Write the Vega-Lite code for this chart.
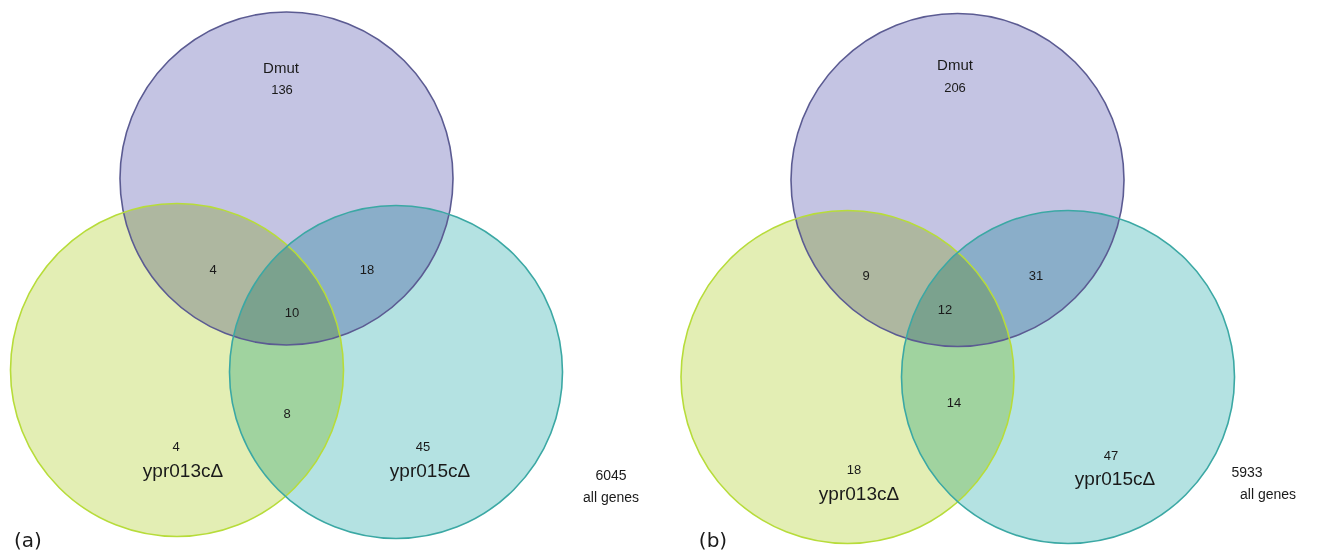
{
  "$schema": "https://vega.github.io/schema/vega-lite/v6.json",
  "width": 1325,
  "height": 556,
  "autosize": {"type": "fit", "contains": "padding"},
  "padding": 0,
  "background": "white",
  "config": {"view": {"stroke": null}},
  "datasets": {
    "circles": [
      {"panel": "a", "set": "Dmut", "cx": 286.5, "cy": 178.5},
      {"panel": "a", "set": "ypr013c", "cx": 177, "cy": 370},
      {"panel": "a", "set": "ypr015c", "cx": 396, "cy": 372},
      {"panel": "b", "set": "Dmut", "cx": 957.5, "cy": 180},
      {"panel": "b", "set": "ypr013c", "cx": 847.5, "cy": 377},
      {"panel": "b", "set": "ypr015c", "cx": 1068, "cy": 377}
    ],
    "labels": [
      {"panel": "a", "kind": "title", "text": "Dmut", "x": 281, "y": 68},
      {"panel": "a", "kind": "count", "text": "136", "x": 282, "y": 90},
      {"panel": "a", "kind": "count", "text": "4", "x": 213, "y": 270},
      {"panel": "a", "kind": "count", "text": "18", "x": 367, "y": 270},
      {"panel": "a", "kind": "count", "text": "10", "x": 292, "y": 313},
      {"panel": "a", "kind": "count", "text": "8", "x": 287, "y": 414},
      {"panel": "a", "kind": "count", "text": "4", "x": 176, "y": 447},
      {"panel": "a", "kind": "set", "text": "ypr013cΔ", "x": 183, "y": 471},
      {"panel": "a", "kind": "count", "text": "45", "x": 423, "y": 447},
      {"panel": "a", "kind": "set", "text": "ypr015cΔ", "x": 430, "y": 471},
      {"panel": "a", "kind": "total", "text": "6045", "x": 611, "y": 476},
      {"panel": "a", "kind": "total", "text": "all genes", "x": 611, "y": 498},
      {"panel": "a", "kind": "panel", "text": "(a)", "x": 28, "y": 541},
      {"panel": "b", "kind": "title", "text": "Dmut", "x": 955, "y": 65},
      {"panel": "b", "kind": "count", "text": "206", "x": 955, "y": 88},
      {"panel": "b", "kind": "count", "text": "9", "x": 866, "y": 276},
      {"panel": "b", "kind": "count", "text": "31", "x": 1036, "y": 276},
      {"panel": "b", "kind": "count", "text": "12", "x": 945, "y": 310},
      {"panel": "b", "kind": "count", "text": "14", "x": 954, "y": 403},
      {"panel": "b", "kind": "count", "text": "18", "x": 854, "y": 470},
      {"panel": "b", "kind": "set", "text": "ypr013cΔ", "x": 859, "y": 494},
      {"panel": "b", "kind": "count", "text": "47", "x": 1111, "y": 456},
      {"panel": "b", "kind": "set", "text": "ypr015cΔ", "x": 1115, "y": 479},
      {"panel": "b", "kind": "total", "text": "5933", "x": 1247, "y": 473},
      {"panel": "b", "kind": "total", "text": "all genes", "x": 1268, "y": 495},
      {"panel": "b", "kind": "panel", "text": "(b)", "x": 713, "y": 541}
    ]
  },
  "layer": [
    {
      "data": {"name": "circles"},
      "mark": {"type": "point", "shape": "circle", "filled": true, "size": 110889, "opacity": 1, "strokeWidth": 0, "blend": "multiply"},
      "encoding": {
        "x": {"field": "cx", "type": "quantitative", "scale": {"domain": [0, 1325], "nice": false, "zero": false}, "axis": null},
        "y": {"field": "cy", "type": "quantitative", "scale": {"domain": [0, 556], "nice": false, "zero": false, "reverse": true}, "axis": null},
        "color": {"field": "set", "type": "nominal", "scale": {"domain": ["Dmut", "ypr013c", "ypr015c"], "range": ["#c4c4e3", "#e3eeb4", "#b4e2e2"]}, "legend": null}
      }
    },
    {
      "data": {"name": "circles"},
      "mark": {"type": "point", "shape": "circle", "filled": false, "size": 110889, "opacity": 1, "strokeWidth": 1.6},
      "encoding": {
        "x": {"field": "cx", "type": "quantitative"},
        "y": {"field": "cy", "type": "quantitative"},
        "stroke": {"field": "set", "type": "nominal", "scale": {"domain": ["Dmut", "ypr013c", "ypr015c"], "range": ["#5b5b92", "#b7dc3a", "#3ba8a4"]}, "legend": null}
      }
    },
    {
      "data": {"name": "labels"},
      "transform": [{"filter": "datum.kind === 'count'"}],
      "mark": {"type": "text", "font": "Liberation Sans", "fontSize": 13, "color": "#1a1a1a", "align": "center", "baseline": "middle"},
      "encoding": {
        "x": {"field": "x", "type": "quantitative"},
        "y": {"field": "y", "type": "quantitative"},
        "text": {"field": "text"}
      }
    },
    {
      "data": {"name": "labels"},
      "transform": [{"filter": "datum.kind === 'title'"}],
      "mark": {"type": "text", "font": "Liberation Sans", "fontSize": 15, "color": "#1a1a1a", "align": "center", "baseline": "middle"},
      "encoding": {
        "x": {"field": "x", "type": "quantitative"},
        "y": {"field": "y", "type": "quantitative"},
        "text": {"field": "text"}
      }
    },
    {
      "data": {"name": "labels"},
      "transform": [{"filter": "datum.kind === 'set'"}],
      "mark": {"type": "text", "font": "Liberation Sans", "fontSize": 19, "color": "#1a1a1a", "align": "center", "baseline": "middle"},
      "encoding": {
        "x": {"field": "x", "type": "quantitative"},
        "y": {"field": "y", "type": "quantitative"},
        "text": {"field": "text"}
      }
    },
    {
      "data": {"name": "labels"},
      "transform": [{"filter": "datum.kind === 'total'"}],
      "mark": {"type": "text", "font": "Liberation Sans", "fontSize": 14, "color": "#1a1a1a", "align": "center", "baseline": "middle"},
      "encoding": {
        "x": {"field": "x", "type": "quantitative"},
        "y": {"field": "y", "type": "quantitative"},
        "text": {"field": "text"}
      }
    },
    {
      "data": {"name": "labels"},
      "transform": [{"filter": "datum.kind === 'panel'"}],
      "mark": {"type": "text", "font": "DejaVu Sans", "fontSize": 20, "color": "#1a1a1a", "align": "center", "baseline": "middle"},
      "encoding": {
        "x": {"field": "x", "type": "quantitative"},
        "y": {"field": "y", "type": "quantitative"},
        "text": {"field": "text"}
      }
    }
  ]
}
